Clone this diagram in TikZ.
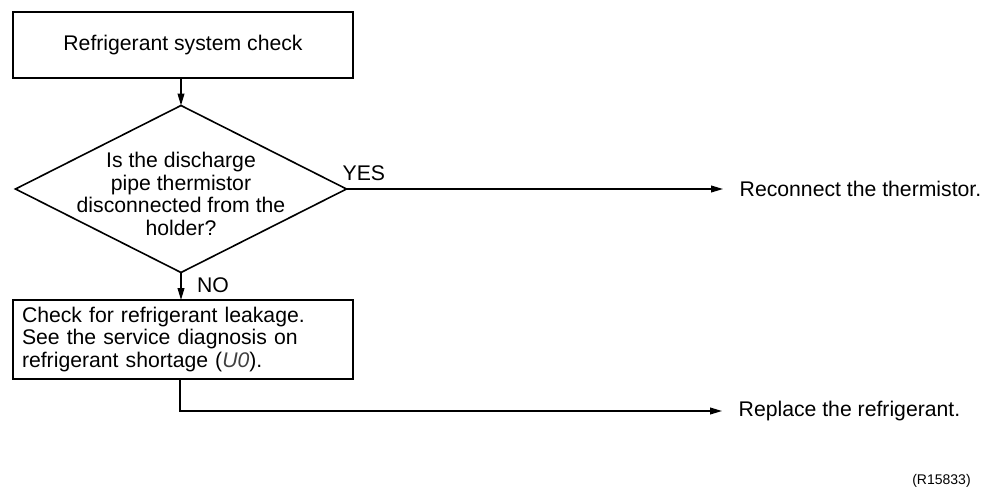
\documentclass[tikz,border=0pt]{standalone}
\usepackage{fontspec}
\setmainfont{Liberation Sans}
\usetikzlibrary{shapes.geometric,arrows.meta,positioning}
\begin{document}
\begin{tikzpicture}[x=0.5pt, y=-0.5pt, >={Triangle[length=6pt,width=3.4pt]},
  line width=0.7pt, font=\fontsize{10.6}{11.3}\selectfont,
  box/.style={draw, rectangle, line width=0.8pt, outer sep=0pt},
  lbl/.style={inner sep=0pt}]
\useasboundingbox (0,0) rectangle (989,487);
% Start box
\node[box, minimum width=170pt, minimum height=33pt] (start) at (183,45) {Refrigerant system check};
% Decision
\node[draw, diamond, line width=0.8pt, minimum width=165.5pt, minimum height=83.5pt, inner sep=0pt, outer sep=0pt] (q) at (181,189) {};
\node[align=center, lbl] (qtext) at (181,194) {Is the discharge\\pipe thermistor\\disconnected from the\\holder?};
\draw[->] (start.south -| q.north) -- (q.north);
% YES branch
\node[anchor=west, inner xsep=8pt, inner ysep=0pt] (reconnect) at (723,189) {Reconnect the thermistor.};
\draw[->] (q.east) -- (reconnect.west);
\node[lbl, anchor=south west] (yes) at (342,181) {YES};
% NO branch
\node[box, minimum width=170pt, minimum height=39.5pt, text width=161pt, inner xsep=4.5pt, align=left] (leak) at (183,339.5)
  {Check for refrigerant leakage.\\See the service diagnosis on\\refrigerant shortage ({\itshape\color{black!75}U0}).};
\draw[->] (q.south) -- (leak.north -| q.south);
\node[lbl] (no) at (213,285) {NO};
% Replace refrigerant
\node[anchor=west, inner xsep=8pt, inner ysep=0pt] (replace) at (722,411) {Replace the refrigerant.};
\coordinate (bend) at (180,411);
\draw[->] (leak.south -| bend) -- (bend) -- (replace.west);
% Figure number
\node[lbl, font=\fontsize{7}{8}\selectfont] (fig) at (941.5,481) {(R15833)};
\end{tikzpicture}
\end{document}
